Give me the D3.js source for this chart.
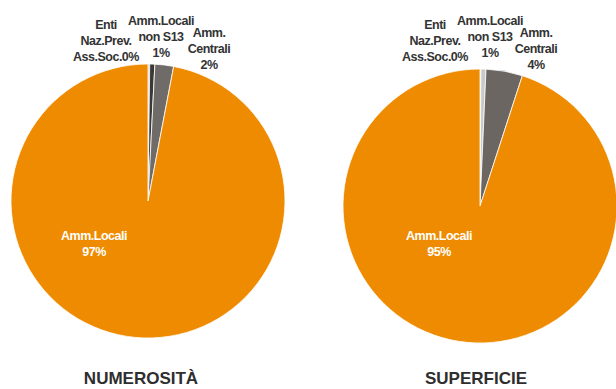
<!DOCTYPE html>
<html>
<head>
<meta charset="utf-8">
<script src="https://cdn.jsdelivr.net/npm/d3@7"></script>
<style>
  body { margin: 0; background: #fff; }
  svg { display: block; }
  .lbl { font-family: "Liberation Sans", Arial, sans-serif; font-weight: bold; font-size: 12.5px; letter-spacing: -0.5px; }
  .title { font-family: "Liberation Sans", Arial, sans-serif; font-weight: bold; font-size: 17px; fill: #2e2e2e; }
</style>
</head>
<body>
<div class="chart"></div>
<script>
// data
var categories = ["Enti Naz.Prev. Ass.Soc.", "Amm.Locali non S13", "Amm.Centrali", "Amm.Locali"];
var numerosita = [0.2, 0.6, 2.2, 97.0];
var superficie = [0.1, 0.6, 4.3, 95.0];
var chartTitles = ["NUMEROSITÀ", "SUPERFICIE"];
var pctNumerosita = ["0%", "1%", "2%", "97%"];
var pctSuperficie = ["0%", "1%", "4%", "95%"];

// dimensions
var width = 616, height = 389;
var radius = 137;

var svg = d3.select(".chart")
  .append("svg")
  .attr("width", width)
  .attr("height", height);

var pie = d3.pie().sort(null).value(function(d) { return d; });
var arc = d3.arc().innerRadius(0).outerRadius(radius);

// per chart layout (centers, label nudges, slice colours)
var charts = [
  {values: numerosita, pct: pctNumerosita, title: chartTitles[0], cx: 148, cy: 201,
   colors: ["#c9c9c9", "#3b3836", "#6f6b68", "#ef8b00"],
   inner: [-54, 43], outer: [[-42, 25], [13, 21], [61, 33]]},
  {values: superficie, pct: pctSuperficie, title: chartTitles[1], cx: 480, cy: 206,
   colors: ["#c9c9c9", "#c9c9c9", "#6b6662", "#ef8b00"],
   inner: [-41, 38], outer: [[-45, 25], [10, 21], [56, 33]]}
];

charts.forEach(function(c) {
  var g = svg.append("g")
    .attr("transform", "translate(" + c.cx + "," + c.cy + ")");

  g.selectAll("path")
    .data(pie(c.values))
    .enter()
    .append("path")
    .attr("d", arc)
    .attr("fill", function(d, i) { return c.colors[i]; })
    .attr("stroke", "#fff")
    .attr("stroke-width", 0.8);

  // outer labels (first three categories)
  var outerLines = [
    ["Enti", "Naz.Prev.", "Ass.Soc." + c.pct[0]],
    ["Amm.Locali", "non S13", c.pct[1]],
    ["Amm.", "Centrali", c.pct[2]]
  ];
  outerLines.forEach(function(lines, i) {
    var t = svg.append("text")
      .attr("class", "lbl")
      .attr("text-anchor", "middle")
      .attr("fill", "#333");
    lines.forEach(function(s, j) {
      t.append("tspan")
        .attr("x", c.cx + c.outer[i][0])
        .attr("y", c.outer[i][1] + j * 16)
        .attr("dy", "0.35em")
        .text(s);
    });
  });

  // inner label
  var it = g.append("text")
    .attr("class", "lbl")
    .attr("text-anchor", "middle")
    .attr("fill", "#fff");
  ["Amm.Locali", c.pct[3]].forEach(function(s, j) {
    it.append("tspan")
      .attr("x", c.inner[0])
      .attr("y", c.inner[1] + j * 16 - 8)
      .attr("dy", "0.35em")
      .text(s);
  });

  // title
  svg.append("text")
    .attr("class", "title")
    .attr("text-anchor", "middle")
    .attr("x", c.cx - (c.cx < 300 ? 7 : 4))
    .attr("y", 384)
    .text(c.title);
});
</script>
</body>
</html>
